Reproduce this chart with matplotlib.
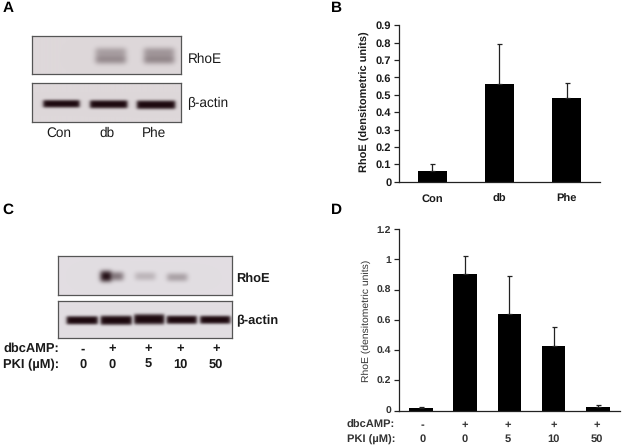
import numpy as np
import matplotlib
matplotlib.use("Agg")
import matplotlib.pyplot as plt

plt.rcParams["font.family"] = ["Liberation Sans", "DejaVu Sans"]
plt.rcParams["text.hinting"] = "none"

W, H = 624, 448

# panel B
b_labels = ["Con", "db", "Phe"]
b_means = [0.06, 0.56, 0.48]
b_errs = [0.04, 0.23, 0.09]
b_ticks = [0, 0.1, 0.2, 0.3, 0.4, 0.5, 0.6, 0.7, 0.8, 0.9]
b_ticklabels = ["0", "0.1", "0.2", "0.3", "0.4", "0.5", "0.6", "0.7", "0.8", "0.9"]

# panel D
d_means = [0.02, 0.90, 0.64, 0.43, 0.025]
d_errs = [0.006, 0.12, 0.25, 0.12, 0.01]
d_ticks = [0, 0.2, 0.4, 0.6, 0.8, 1, 1.2]
d_ticklabels = ["0", "0.2", "0.4", "0.6", "0.8", "1", "1.2"]
dbc_row = ["-", "+", "+", "+", "+"]
pki_row = ["0", "0", "5", "10", "50"]

# blot bands: centre x, half width, centre y, half height, strength (pixels)
a_rhoe_bands = [(110, 15, 52, 3.5, 0.30), (110, 15, 59, 3.5, 0.40),
                (158, 15, 52, 3.5, 0.34), (158, 15, 59, 3.5, 0.42)]
a_actin_bands = [(61, 18, 103.5, 3.2, 1.0), (108, 18.5, 104, 3.4, 1.0), (155, 19, 104.5, 3.6, 1.0)]
c_rhoe_bands = [(106, 5.5, 276, 4.5, 1.0), (116, 7, 276, 3.5, 0.5),
                (145, 10, 276, 3.2, 0.2), (177, 10, 277, 3.2, 0.3)]
c_actin_bands = [(82, 15.5, 320.5, 3.4, 1.0), (116, 15.5, 320.5, 3.8, 1.0), (149, 15, 319.5, 4.2, 1.0),
                 (181.5, 15, 320, 3.4, 1.0), (215, 15, 320, 3.3, 1.0)]


def px_axes(fig, left, top, right, bottom):
    return fig.add_axes([left / W, 1 - bottom / H, (right - left) / W, (bottom - top) / H])


def blur(a, sigma):
    # sigma in half pixels, edges padded so the frame stays clean
    r = int(3 * sigma) + 1
    k = np.exp(-0.5 * (np.arange(-r, r + 1) / sigma) ** 2)
    k /= k.sum()
    a = np.pad(a, r, mode="edge")
    a = np.apply_along_axis(lambda v: np.convolve(v, k, mode="same"), 0, a)
    a = np.apply_along_axis(lambda v: np.convolve(v, k, mode="same"), 1, a)
    return a[r:-r, r:-r]


def draw_blot(fig, box, bands, bg, soft):
    left, top, right, bottom = box
    xs, ys = np.meshgrid(np.arange(left, right, 0.5), np.arange(top, bottom, 0.5))
    dark = np.zeros_like(xs)
    for cx, hw, cy, hh, s in bands:
        fx = 0.5 * (np.tanh((xs - cx + hw) / 1.8) - np.tanh((xs - cx - hw) / 1.8))
        fy = np.exp(-((ys - cy) / (hh * 1.2)) ** 4)
        dark = np.maximum(dark, s * fx * fy)
    dark = blur(dark, soft * 2)
    bg = np.array(bg) / 255
    ink = np.array([28, 8, 14]) / 255
    img = bg[None, None, :] * (1 - dark[..., None]) + ink[None, None, :] * dark[..., None]
    ax = px_axes(fig, left, top, right, bottom)
    ax.imshow(img, aspect="auto", interpolation="bilinear")
    ax.set_xticks([])
    ax.set_yticks([])
    for s in ax.spines.values():
        s.set_color("#555555")
        s.set_linewidth(0.9)


def draw_bars(ax, means, errs, width, ymax, ticks, ticklabels, color, size, weight):
    x = np.arange(len(means))
    ax.bar(x, means, width=width, color="black")
    ax.errorbar(x, means, yerr=[np.zeros(len(errs)), errs], fmt="none", ecolor="#222222",
                elinewidth=0.9, capsize=1.8, capthick=0.9)
    ax.set_xlim(-0.5, len(means) - 0.5)
    ax.set_ylim(0, ymax)
    ax.set_yticks(ticks)
    ax.set_yticklabels(ticklabels, fontsize=size, fontweight=weight, color=color)
    ax.tick_params(axis="y", length=3.5, width=0.9, pad=2, color="#222222")
    for s in ["top", "right"]:
        ax.spines[s].set_visible(False)
    for s in ["left", "bottom"]:
        ax.spines[s].set_linewidth(0.9)
        ax.spines[s].set_color("#222222")


def label(fig, x, y, s, size=8, weight="normal", ha="left", color="#1a1a1a", **kw):
    fig.text(x / W, 1 - y / H, s, fontsize=size, fontweight=weight, ha=ha, va="center", color=color, **kw)


fig = plt.figure(figsize=(W / 100, H / 100), dpi=100)

# blots
draw_blot(fig, (32, 36, 181, 74), a_rhoe_bands, (222, 216, 218), 2.2)
draw_blot(fig, (32, 83, 181, 122), a_actin_bands, (222, 216, 218), 0.8)
draw_blot(fig, (58, 256, 232, 295), c_rhoe_bands, (226, 222, 226), 1.8)
draw_blot(fig, (58, 301, 232, 338), c_actin_bands, (226, 222, 226), 0.7)

# panel A text
label(fig, 187.5, 59.5, "RhoE", 9.8)
label(fig, 187, 103.5, "β-actin", 9.8)
for cx, s in zip([59, 107, 154], b_labels):
    label(fig, cx, 133, s, 9.8, ha="center")

# panel C text
label(fig, 236.5, 279, "RhoE", 9.3, "bold")
label(fig, 236.5, 320.5, "β-actin", 9.3, "bold")
label(fig, 3, 349, "dbcAMP:", 9.3, "bold")
label(fig, 3, 365, "PKI (µM):", 9.3, "bold")
for cx, a, b in zip([83, 112, 148, 180.5, 216], dbc_row, pki_row):
    label(fig, cx, 349, a, 9.3, "bold", ha="center")
    label(fig, cx, 365, b, 9.3, "bold", ha="center")

# panel letters
for x, y, s in [(8, 8, "A"), (336, 8, "B"), (8, 210, "C"), (336, 210, "D")]:
    label(fig, x, y, s, 11, "bold", ha="center", color="black")

# panel B
ax_b = px_axes(fig, 399, 25.3, 600, 181.7)
draw_bars(ax_b, b_means, b_errs, 0.42, 0.9, b_ticks, b_ticklabels, "#1a1a1a", 8, "bold")
ax_b.set_xticks(np.arange(len(b_labels)))
ax_b.set_xticklabels(b_labels, fontsize=8, fontweight="bold", color="#1a1a1a")
ax_b.tick_params(axis="x", length=0, pad=8.5)
label(fig, 364.5, 102, "RhoE (densitometric units)", 7.9, "bold", ha="center", rotation=90)

# panel D
ax_d = px_axes(fig, 398.7, 229, 620, 410.7)
draw_bars(ax_d, d_means, d_errs, 0.535, 1.2, d_ticks, d_ticklabels, "#333333", 7.5, "bold")
ax_d.set_xticks([])
label(fig, 366, 321, "RhoE (densitometric units)", 7.5, "normal", ha="center", color="#333333", rotation=90)
label(fig, 347, 425, "dbcAMP:", 8, "bold", color="#333333")
label(fig, 347, 439.5, "PKI (µM):", 8, "bold", color="#333333")
for cx, a, b in zip([422.5, 465, 508, 553.5, 597], dbc_row, pki_row):
    label(fig, cx, 425, a, 8, "bold", ha="center", color="#333333")
    label(fig, cx, 439.5, b, 8, "bold", ha="center", color="#333333")

fig.savefig("out.png", dpi=100, facecolor="white")
